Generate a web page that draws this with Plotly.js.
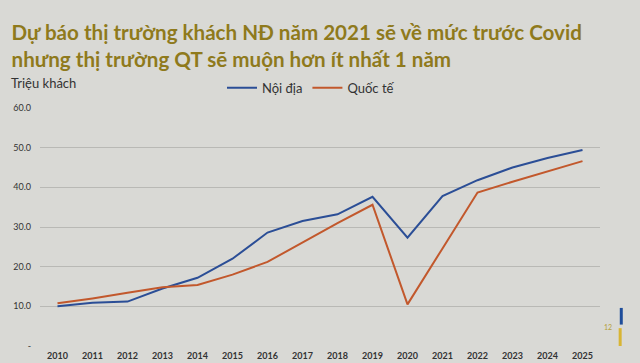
<!DOCTYPE html>
<html>
<head>
<meta charset="utf-8">
<script src="https://cdn.plot.ly/plotly-3.0.1.min.js"></script>
<style>html,body{margin:0;padding:0;background:#d9d9d5;}#chart{width:640px;height:363px;}</style>
</head>
<body>
<div id="chart"></div>
<script>
const years = ['2010','2011','2012','2013','2014','2015','2016','2017','2018','2019','2020','2021','2022','2023','2024','2025'];
const noiDia = [10.0, 10.9, 11.2, 14.5, 17.2, 22.0, 28.6, 31.5, 33.2, 37.6, 27.3, 37.8, 41.8, 45.0, 47.4, 49.4];
const quocTe = [10.8, 12.0, 13.4, 14.8, 15.4, 18.0, 21.2, 26.2, 31.0, 35.6, 10.5, 24.6, 38.7, 41.4, 44.0, 46.6];
const yTickVals = [0, 10, 20, 30, 40, 50, 60];
const yTickText = ['-', '10.0', '20.0', '30.0', '40.0', '50.0', '60.0'];

const traces = [
  {x: years, y: noiDia, name: 'Nội địa', type: 'scatter', mode: 'lines', line: {color: '#2b4e96', width: 2}},
  {x: years, y: quocTe, name: 'Quốc tế', type: 'scatter', mode: 'lines', line: {color: '#c2582c', width: 2}}
];

const layout = {
  width: 640, height: 363,
  paper_bgcolor: '#d9d9d5', plot_bgcolor: 'rgba(0,0,0,0)',
  margin: {l: 40, r: 40, t: 108, b: 17},
  font: {family: 'Lato, "Open Sans", sans-serif', color: '#333'},
  title: {
    text: 'Dự báo thị trường khách NĐ năm 2021 sẽ về mức trước Covid<br>nhưng thị trường QT sẽ muộn hơn ít nhất 1 năm',
    x: 0.018, xanchor: 'left', xref: 'container',
    y: 0.89, yanchor: 'top', yref: 'container',
    font: {family: 'Lato, sans-serif', size: 20.6, color: '#8f7a1c', weight: 'bold'}
  },
  showlegend: true,
  legend: {orientation: 'h', x: 0.325, xanchor: 'left', y: 1.085, yanchor: 'middle',
    font: {size: 13, color: '#333'}, bgcolor: 'rgba(0,0,0,0)', itemwidth: 30, tracegroupgap: 0},
  xaxis: {type: 'category', range: [-0.5, 15.5], showgrid: false, zeroline: false, showline: false,
    ticks: '', tickfont: {size: 9, color: '#333', weight: 'bold'}, ticklabelstandoff: 3},
  yaxis: {range: [0, 60], tickvals: yTickVals, ticktext: yTickText, showgrid: true,
    gridcolor: '#b9b9b5', gridwidth: 1, zeroline: false, showline: false, ticks: '',
    tickfont: {size: 9, color: '#333'}, ticklabelstandoff: 8},
  annotations: [
    {text: 'Triệu khách', xref: 'paper', yref: 'paper', x: -0.055, y: 1.105, xanchor: 'left', yanchor: 'middle',
     showarrow: false, font: {size: 13, color: '#333'}},
    {text: '12', xref: 'paper', yref: 'paper', x: 1.003, y: 0.08, xanchor: 'left', yanchor: 'middle',
     showarrow: false, font: {size: 7, color: '#b5a03a'}}
  ],
  shapes: [
    {type: 'line', xref: 'paper', yref: 'paper', x0: 1.038, x1: 1.038, y0: 0.16, y1: 0.09, line: {color: '#1e4d9a', width: 3}},
    {type: 'line', xref: 'paper', yref: 'paper', x0: 1.036, x1: 1.036, y0: 0.075, y1: 0.0, line: {color: '#d8b534', width: 3}}
  ]
};

Plotly.newPlot('chart', traces, layout, {displayModeBar: false, staticPlot: true});
</script>
</body>
</html>
